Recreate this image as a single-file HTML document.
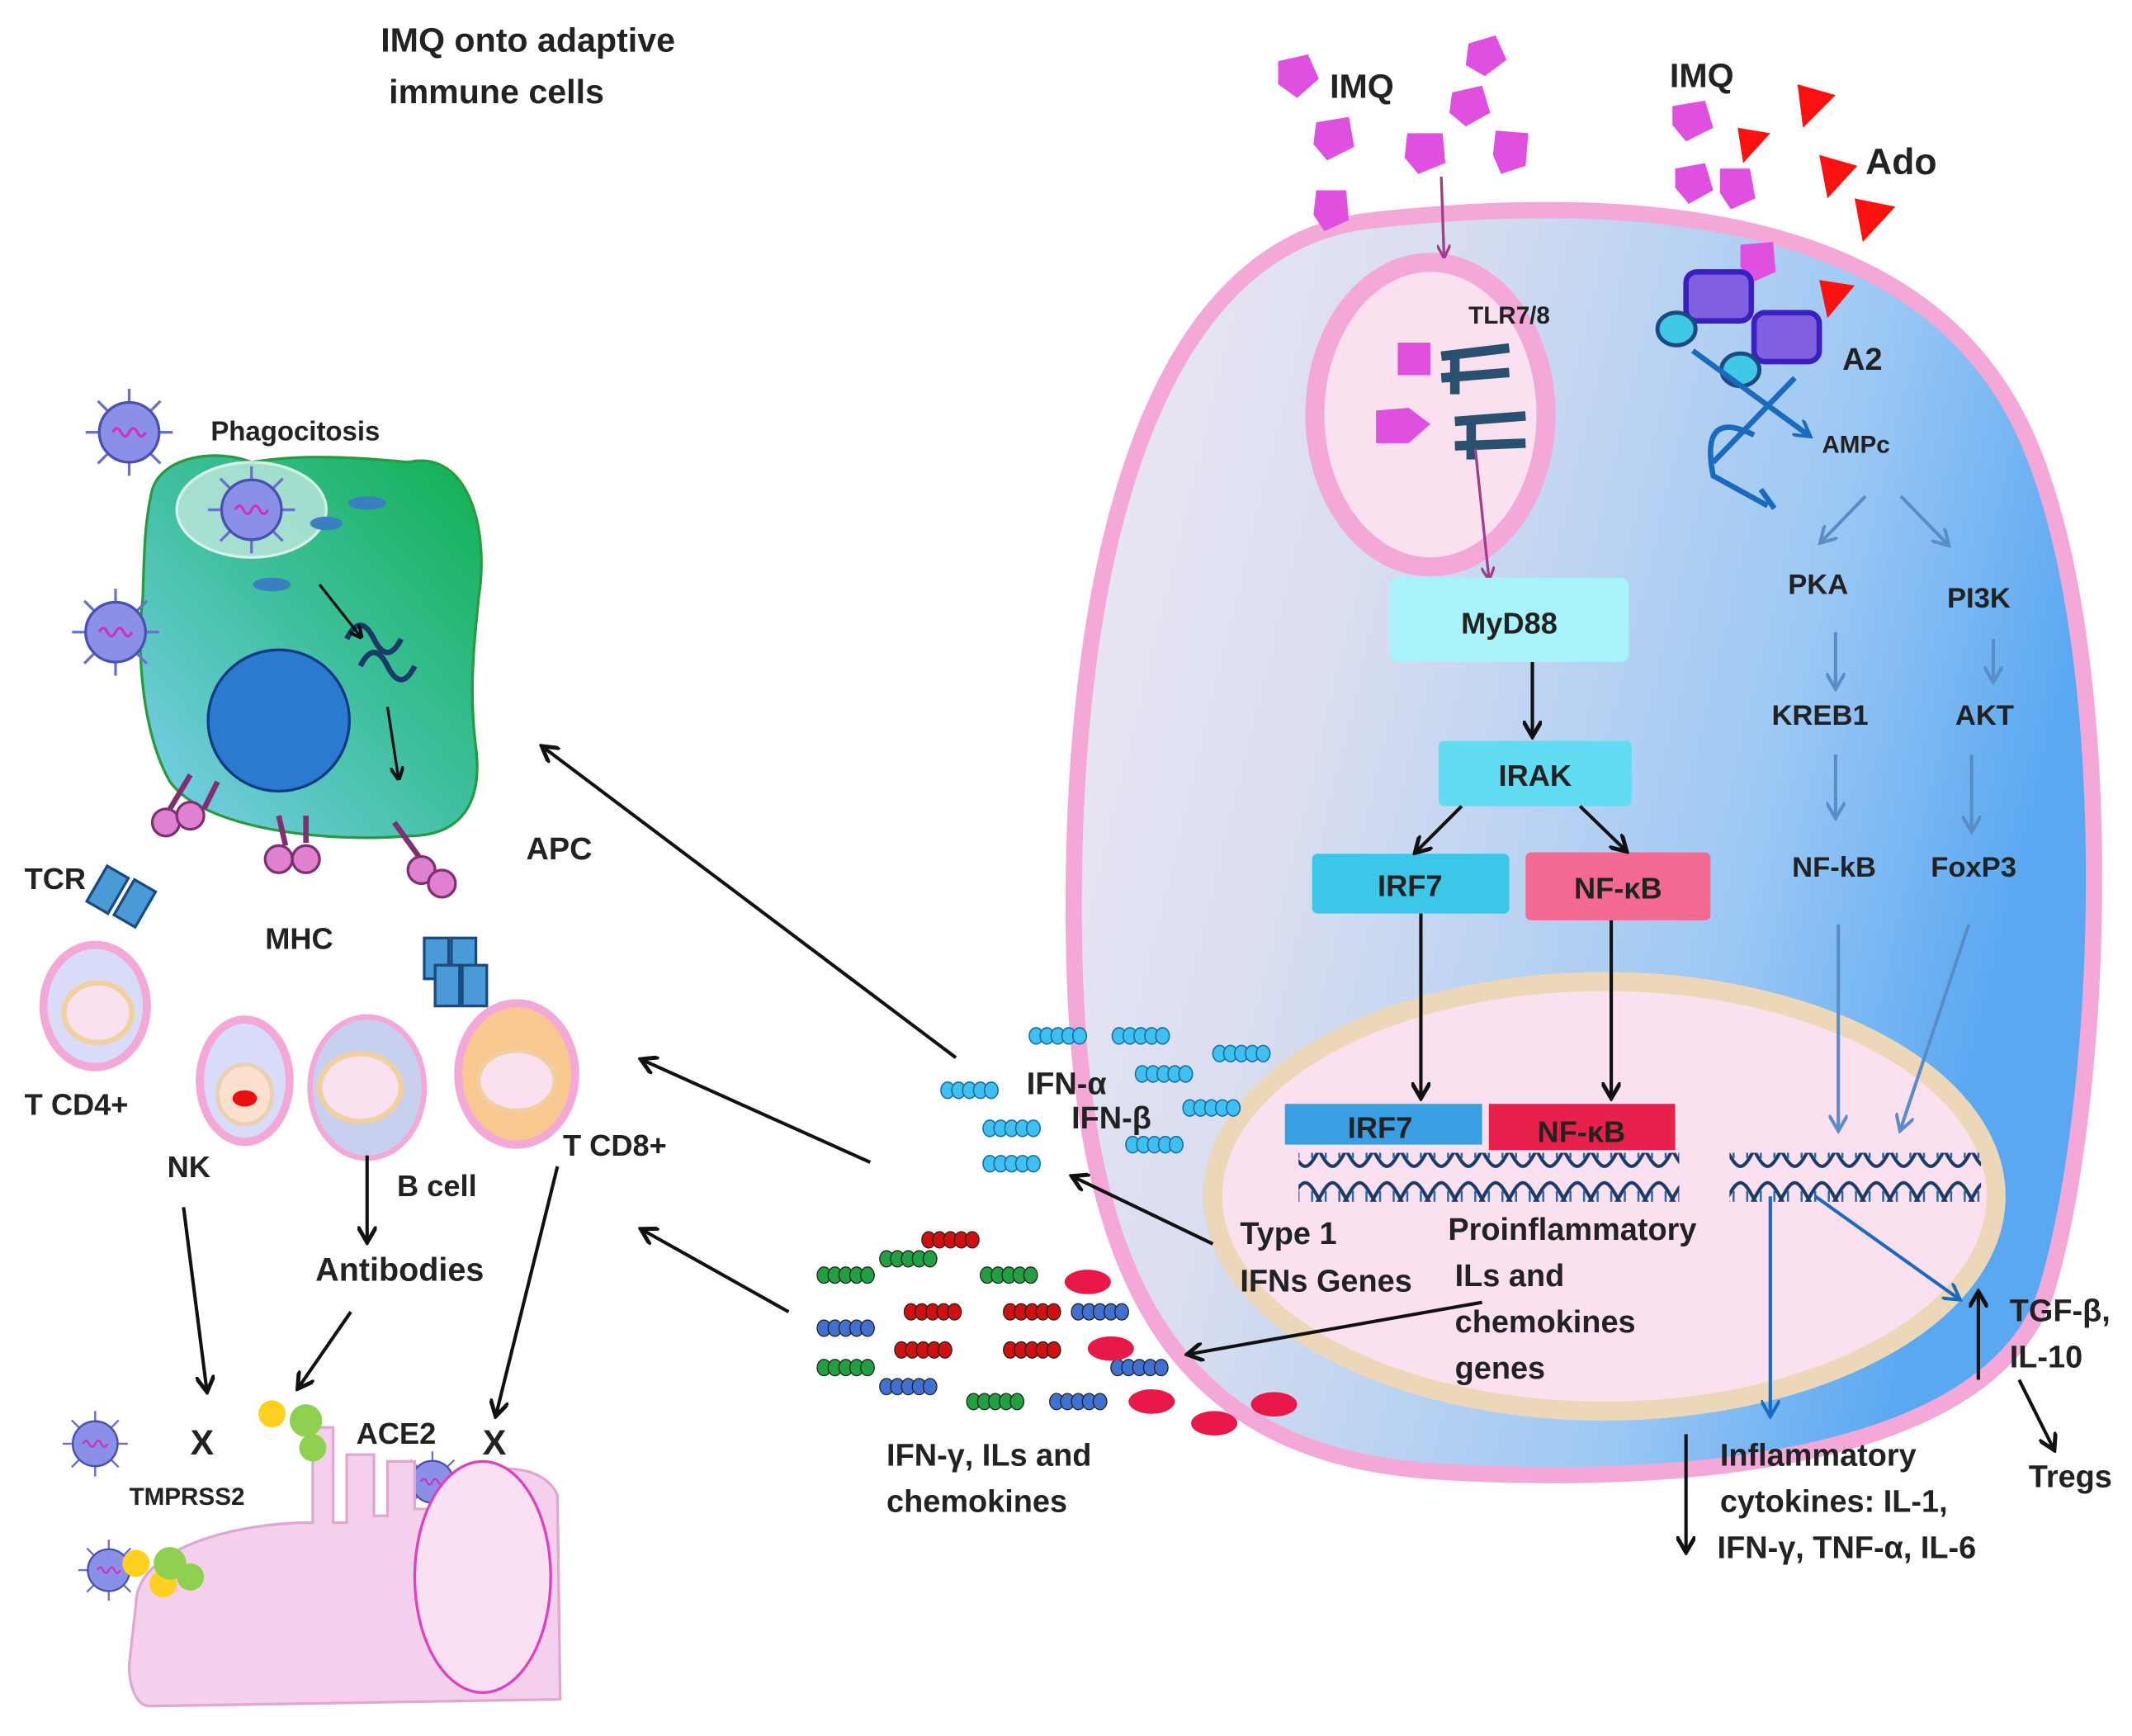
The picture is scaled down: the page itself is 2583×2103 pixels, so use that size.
<!DOCTYPE html>
<html><head><meta charset="utf-8"><style>
html,body{margin:0;padding:0;background:#fff}
svg{display:block}
text{font-family:"Liberation Sans",sans-serif;font-weight:bold;fill:#222}
</style></head><body>
<svg width="2583" height="2103" viewBox="0 0 1568 1277" preserveAspectRatio="none" xmlns="http://www.w3.org/2000/svg">
<defs>
<linearGradient id="cellg" x1="0" y1="0" x2="1" y2="0.3">
<stop offset="0" stop-color="#eee8f4"/><stop offset="0.35" stop-color="#d8ddf0"/><stop offset="0.75" stop-color="#9cc8f4"/><stop offset="1" stop-color="#5aa8f2"/></linearGradient>
<linearGradient id="apcg" x1="0" y1="1" x2="1" y2="0">
<stop offset="0" stop-color="#7fd0f0"/><stop offset="0.5" stop-color="#40c0a0"/><stop offset="1" stop-color="#10b050"/></linearGradient>
<marker id="ab" markerWidth="10" markerHeight="10" refX="8" refY="5" orient="auto" markerUnits="userSpaceOnUse"><path d="M0,0 L10,5 L0,10" fill="none" stroke="#111" stroke-width="2.5"/></marker>
<marker id="abl" markerWidth="14" markerHeight="14" refX="10" refY="7" orient="auto" markerUnits="userSpaceOnUse"><path d="M0,0 L12,7 L0,14" fill="none" stroke="#111" stroke-width="3"/></marker>
<marker id="ap" markerWidth="10" markerHeight="10" refX="8" refY="5" orient="auto" markerUnits="userSpaceOnUse"><path d="M0,0 L10,5 L0,10" fill="none" stroke="#a03c8c" stroke-width="2"/></marker>
<marker id="au" markerWidth="14" markerHeight="14" refX="10" refY="7" orient="auto" markerUnits="userSpaceOnUse"><path d="M0,0 L12,7 L0,14" fill="none" stroke="#5a8cc8" stroke-width="2.5"/></marker>
<marker id="ad" markerWidth="14" markerHeight="14" refX="10" refY="7" orient="auto" markerUnits="userSpaceOnUse"><path d="M0,0 L12,7 L0,14" fill="none" stroke="#1a6ac0" stroke-width="2.5"/></marker>
<pattern id="dna" width="20" height="36" patternUnits="userSpaceOnUse"><path d="M0,6 C7,6 13,30 20,30 M0,30 C7,30 13,6 20,6" stroke="#1a3a6a" stroke-width="2.5" fill="none"/><line x1="5" y1="12" x2="5" y2="24" stroke="#2a6aaa" stroke-width="1.5"/><line x1="15" y1="12" x2="15" y2="24" stroke="#2a6aaa" stroke-width="1.5"/></pattern>
<g id="bd"><ellipse cx="0" cy="0" rx="5" ry="6"/><ellipse cx="8" cy="0" rx="5" ry="6"/><ellipse cx="16" cy="0" rx="5" ry="6"/><ellipse cx="24" cy="0" rx="5" ry="6"/><ellipse cx="32" cy="0" rx="5" ry="6"/></g>
<g id="vir"><g stroke="#6a70d0" stroke-width="2"><line x1="-32" y1="0" x2="32" y2="0"/><line x1="0" y1="-32" x2="0" y2="32"/><line x1="-23" y1="-23" x2="23" y2="23"/><line x1="-23" y1="23" x2="23" y2="-23"/></g>
<circle cx="0" cy="0" r="22" fill="#8a90e8" stroke="#4a50b0" stroke-width="2"/><path d="M-12,0 q3,-6 6,0 t6,0 t6,0 t6,0" stroke="#d030c0" stroke-width="2" fill="none"/></g>
</defs>
<rect width="1568" height="1277" fill="#fff"/>

<text x="280" y="38" font-size="25">IMQ onto adaptive</text>
<text x="286" y="76" font-size="25">immune cells</text>

<!-- big cell -->
<path d="M1010,162 C1210,140 1410,160 1485,310 C1560,460 1550,800 1505,950 C1465,1070 1250,1095 1050,1082 C870,1068 795,950 790,700 C785,460 830,180 1010,162 Z" fill="url(#cellg)" stroke="#f4a8d8" stroke-width="12"/>
<ellipse cx="1052" cy="305" rx="85" ry="112" fill="#fbe0f0" stroke="#f4a8d8" stroke-width="14"/>
<ellipse cx="1180" cy="880" rx="288" ry="158" fill="#fbe0f0" stroke="#ecd8b8" stroke-width="14"/>
<rect x="955" y="848" width="280" height="36" fill="url(#dna)"/>
<rect x="1272" y="848" width="185" height="36" fill="url(#dna)"/>

<g fill="#e050e0">
<path d="M940,45 l22,-5 l8,18 l-16,14 l-14,-10z"/><path d="M1080,32 l20,-6 l8,18 l-16,12 l-14,-8z"/>
<path d="M1068,68 l22,-5 l6,20 l-18,10 l-12,-10z"/><path d="M968,90 l24,-4 l4,22 l-20,10 l-10,-12z"/>
<path d="M1035,98 l26,0 l2,22 l-20,8 l-10,-12z"/><path d="M1100,96 l24,2 l-2,24 l-18,6 l-6,-14z"/>
<path d="M968,140 l22,0 l2,22 l-18,8 l-8,-12z"/>
<path d="M1230,78 l24,-4 l6,20 l-20,10 l-10,-12z"/><path d="M1232,124 l22,-4 l6,20 l-18,10 l-10,-12z"/>
<path d="M1265,124 l22,0 l4,22 l-18,8 l-8,-12z"/><path d="M1280,180 l24,-2 l2,22 l-18,8 l-8,-12z"/>
<path d="M1028,252 l24,0 l0,24 l-24,0z"/><path d="M1012,302 l24,-2 l16,12 l-16,14 l-24,0z"/>
</g>
<g fill="#ff1010">
<path d="M1322,62 l28,8 l-24,24z"/><path d="M1278,94 l24,4 l-20,22z"/><path d="M1338,114 l28,8 l-22,24z"/>
<path d="M1364,146 l30,6 l-24,26z"/><path d="M1338,206 l26,4 l-20,24z"/>
</g>
<text x="978" y="72" font-size="25">IMQ</text>
<text x="1228" y="64" font-size="25">IMQ</text>
<text x="1372" y="128" font-size="27">Ado</text>

<g fill="none" stroke="#2a5070" stroke-width="7">
<path d="M1060,262 l50,-6 M1060,278 l50,-4 M1070,262 v28"/>
<path d="M1070,310 l52,-4 M1070,328 l52,-2 M1082,310 v28"/>
</g>
<text x="1080" y="238" font-size="18" font-weight="normal">TLR7/8</text>
<g stroke="#3a20c0" stroke-width="4" fill="#8060e0">
<rect x="1240" y="200" width="48" height="36" rx="8"/><rect x="1290" y="230" width="48" height="36" rx="8"/>
</g>
<ellipse cx="1233" cy="242" rx="14" ry="12" fill="#40c8e8" stroke="#1a4a80" stroke-width="3"/>
<ellipse cx="1280" cy="272" rx="14" ry="12" fill="#40c8e8" stroke="#1a4a80" stroke-width="3"/>
<text x="1355" y="272" font-size="23">A2</text>
<path d="M1245,258 L1330,320" stroke="#1a6ac0" stroke-width="4" fill="none" marker-end="url(#ad)"/>
<path d="M1320,278 L1260,340 M1290,320 Q1250,300 1260,350 L1300,372" stroke="#1a6ac0" stroke-width="4" fill="none"/>
<path d="M1295,360 l10,14" stroke="#1a6ac0" stroke-width="4"/>
<text x="1340" y="333" font-size="18">AMPc</text>

<line x1="1060" y1="130" x2="1062" y2="188" stroke="#a03c8c" stroke-width="2" marker-end="url(#ap)"/>
<line x1="1085" y1="330" x2="1095" y2="425" stroke="#a03c8c" stroke-width="2" marker-end="url(#ap)"/>

<rect x="1022" y="425" width="176" height="62" rx="6" fill="#a8f2fa"/>
<text x="1110" y="466" font-size="22" text-anchor="middle">MyD88</text>
<rect x="1058" y="545" width="142" height="48" rx="4" fill="#62dcf2"/>
<text x="1129" y="578" font-size="22" text-anchor="middle">IRAK</text>
<rect x="965" y="628" width="145" height="44" rx="4" fill="#3cc6ea"/>
<text x="1037" y="659" font-size="22" text-anchor="middle">IRF7</text>
<rect x="1122" y="627" width="136" height="50" rx="4" fill="#f46a92"/>
<text x="1190" y="661" font-size="22" text-anchor="middle">NF-κB</text>
<rect x="945" y="812" width="145" height="30" fill="#3a9ee2"/>
<text x="1015" y="837" font-size="22" text-anchor="middle">IRF7</text>
<rect x="1095" y="812" width="137" height="34" fill="#e8204c"/>
<text x="1163" y="840" font-size="22" text-anchor="middle">NF-κB</text>

<g stroke="#111" stroke-width="2.5" fill="none">
<line x1="1127" y1="487" x2="1127" y2="540" marker-end="url(#abl)"/>
<line x1="1075" y1="593" x2="1042" y2="626" marker-end="url(#abl)"/>
<line x1="1162" y1="593" x2="1195" y2="625" marker-end="url(#abl)"/>
<line x1="1045" y1="672" x2="1045" y2="806" marker-end="url(#abl)"/>
<line x1="1185" y1="677" x2="1185" y2="806" marker-end="url(#abl)"/>
</g>

<g font-size="21">
<text x="1315" y="437">PKA</text><text x="1432" y="447">PI3K</text>
<text x="1303" y="533">KREB1</text><text x="1438" y="533">AKT</text>
<text x="1318" y="645">NF-kB</text><text x="1420" y="645">FoxP3</text>
</g>
<g stroke="#5a8cc8" stroke-width="2.5" fill="none">
<line x1="1372" y1="365" x2="1340" y2="398" marker-end="url(#au)"/>
<line x1="1398" y1="365" x2="1432" y2="400" marker-end="url(#au)"/>
<line x1="1350" y1="465" x2="1350" y2="505" marker-end="url(#au)"/>
<line x1="1466" y1="470" x2="1466" y2="500" marker-end="url(#au)"/>
<line x1="1350" y1="555" x2="1350" y2="600" marker-end="url(#au)"/>
<line x1="1450" y1="555" x2="1450" y2="610" marker-end="url(#au)"/>
<line x1="1352" y1="680" x2="1352" y2="830" marker-end="url(#au)"/>
<line x1="1448" y1="680" x2="1398" y2="830" marker-end="url(#au)"/>
</g>
<g stroke="#1a6ac0" stroke-width="2.5" fill="none">
<line x1="1302" y1="880" x2="1302" y2="1040" marker-end="url(#ad)"/>
<line x1="1335" y1="880" x2="1440" y2="955" marker-end="url(#ad)"/>
</g>
<g stroke="#111" stroke-width="2.5" fill="none">
<line x1="1240" y1="1055" x2="1240" y2="1140" marker-end="url(#abl)"/>
<line x1="1455" y1="1015" x2="1455" y2="952" marker-end="url(#abl)"/>
<line x1="1485" y1="1015" x2="1510" y2="1065" marker-end="url(#abl)"/>
<line x1="1090" y1="958" x2="875" y2="996" marker-end="url(#abl)"/>
</g>
<g font-size="23">
<text x="1265" y="1078">Inflammatory</text>
<text x="1265" y="1112">cytokines: IL-1,</text>
<text x="1263" y="1146">IFN-γ, TNF-α, IL-6</text>
<text x="1478" y="972">TGF-β,</text><text x="1478" y="1006">IL-10</text>
<text x="1492" y="1094">Tregs</text>
<text x="912" y="915">Type 1</text><text x="912" y="950">IFNs Genes</text>
<text x="1065" y="912">Proinflammatory</text>
<text x="1070" y="946">ILs and</text>
<text x="1070" y="980">chemokines</text>
<text x="1070" y="1014">genes</text>
<text x="755" y="805">IFN-α</text><text x="788" y="830">IFN-β</text>
<text x="652" y="1078">IFN-γ, ILs and</text><text x="652" y="1112">chemokines</text>
<text x="387" y="632">APC</text>
</g>

<g fill="#40c0f0" stroke="#1a70a0" stroke-width="1">
<use href="#bd" x="762" y="762"/><use href="#bd" x="823" y="762"/><use href="#bd" x="697" y="802"/>
<use href="#bd" x="840" y="790"/><use href="#bd" x="897" y="775"/><use href="#bd" x="875" y="815"/>
<use href="#bd" x="728" y="830"/><use href="#bd" x="833" y="842"/><use href="#bd" x="728" y="856"/>
</g>
<g stroke="#222" stroke-width="0.8">
<g fill="#d01010"><use href="#bd" x="683" y="912"/><use href="#bd" x="670" y="965"/><use href="#bd" x="743" y="965"/><use href="#bd" x="663" y="993"/><use href="#bd" x="743" y="993"/></g>
<g fill="#20a040"><use href="#bd" x="606" y="938"/><use href="#bd" x="652" y="926"/><use href="#bd" x="726" y="938"/><use href="#bd" x="606" y="1006"/><use href="#bd" x="716" y="1031"/></g>
<g fill="#4070d0"><use href="#bd" x="606" y="977"/><use href="#bd" x="793" y="965"/><use href="#bd" x="652" y="1020"/><use href="#bd" x="777" y="1031"/><use href="#bd" x="822" y="1006"/></g>
</g>
<g fill="#e81848">
<ellipse cx="800" cy="943" rx="17" ry="9"/><ellipse cx="817" cy="992" rx="17" ry="9"/><ellipse cx="847" cy="1031" rx="17" ry="9"/>
<ellipse cx="893" cy="1047" rx="17" ry="9"/><ellipse cx="937" cy="1033" rx="17" ry="9"/>
</g>

<g stroke="#111" stroke-width="2.5" fill="none">
<line x1="703" y1="778" x2="400" y2="550" marker-end="url(#abl)"/>
<line x1="640" y1="855" x2="473" y2="780" marker-end="url(#abl)"/>
<line x1="580" y1="965" x2="473" y2="905" marker-end="url(#abl)"/>
<line x1="892" y1="915" x2="790" y2="866" marker-end="url(#abl)"/>
</g>

<!-- APC cell -->
<path d="M112,360 C120,335 160,330 185,340 C215,335 250,335 300,340 C345,330 360,390 352,440 C348,480 345,510 350,550 C355,590 340,615 300,615 C240,620 150,610 125,575 C105,540 100,480 105,440 C106,410 106,385 112,360 Z" fill="url(#apcg)" stroke="#2a9a40" stroke-width="2"/>
<ellipse cx="205" cy="530" rx="52" ry="52" fill="#2a7ad0" stroke="#0a3a80" stroke-width="2"/>
<ellipse cx="185" cy="375" rx="55" ry="35" fill="#c0e8e0" stroke="#fff" stroke-width="2" opacity="0.8"/>
<g fill="#3a80c0"><ellipse cx="270" cy="370" rx="14" ry="5"/><ellipse cx="240" cy="385" rx="12" ry="5"/><ellipse cx="200" cy="430" rx="14" ry="5"/></g>
<path d="M255,470 q10,-20 20,0 t20,0 M265,490 q10,-20 20,0 t20,0" stroke="#1a3a6a" stroke-width="4" fill="none"/>
<line x1="235" y1="430" x2="265" y2="468" stroke="#111" stroke-width="2" marker-end="url(#ab)"/>
<line x1="285" y1="520" x2="293" y2="572" stroke="#111" stroke-width="2" marker-end="url(#ab)"/>
<use href="#vir" x="95" y="318"/><use href="#vir" x="85" y="465"/><use href="#vir" x="185" y="375"/>
<g transform="translate(70,1062) scale(0.75)"><use href="#vir"/></g>
<g transform="translate(318,1090) scale(0.7)"><use href="#vir"/></g>
<g transform="translate(80,1155) scale(0.7)"><use href="#vir"/></g>
<g transform="translate(285,1165) scale(0.75)"><use href="#vir"/></g>
<text x="155" y="324" font-size="20">Phagocitosis</text>

<g fill="#e080d0" stroke="#803070" stroke-width="2">
<circle cx="122" cy="605" r="10"/><circle cx="140" cy="600" r="10"/><circle cx="205" cy="632" r="10"/><circle cx="225" cy="632" r="10"/><circle cx="310" cy="640" r="10"/><circle cx="325" cy="650" r="10"/>
</g>
<g stroke="#803070" stroke-width="4"><line x1="125" y1="595" x2="140" y2="570"/><line x1="150" y1="595" x2="160" y2="575"/><line x1="210" y1="622" x2="205" y2="600"/><line x1="225" y1="620" x2="225" y2="600"/><line x1="308" y1="630" x2="290" y2="605"/></g>
<g fill="#4a9ad8" stroke="#1a4a80" stroke-width="2">
<rect x="70" y="640" width="18" height="30" transform="rotate(30 80 655)"/><rect x="90" y="650" width="18" height="30" transform="rotate(30 100 665)"/>
<rect x="312" y="690" width="18" height="30"/><rect x="332" y="690" width="18" height="30"/><rect x="320" y="710" width="18" height="30"/><rect x="340" y="710" width="18" height="30"/>
</g>
<text x="18" y="654" font-size="22">TCR</text>
<text x="195" y="698" font-size="22" font-weight="normal" fill="#333">MHC</text>
<ellipse cx="70" cy="740" rx="38" ry="45" fill="#d8dcf8" stroke="#f4a8d8" stroke-width="6"/>
<ellipse cx="72" cy="745" rx="25" ry="22" fill="#fbe0f0" stroke="#f0d0a0" stroke-width="4"/>
<text x="18" y="820" font-size="22">T CD4+</text>
<ellipse cx="180" cy="795" rx="33" ry="45" fill="#d8dcf8" stroke="#f4a8d8" stroke-width="6"/>
<ellipse cx="180" cy="805" rx="20" ry="22" fill="#fbe0d0" stroke="#e8d0b0" stroke-width="3"/>
<ellipse cx="180" cy="808" rx="9" ry="6" fill="#e81010"/>
<text x="123" y="866" font-size="22">NK</text>
<ellipse cx="270" cy="800" rx="42" ry="52" fill="#c8d0f0" stroke="#f4a8d8" stroke-width="4"/>
<ellipse cx="265" cy="800" rx="30" ry="25" fill="#fbe0f0" stroke="#f0d0a0" stroke-width="4"/>
<text x="292" y="880" font-size="22">B cell</text>
<ellipse cx="380" cy="790" rx="43" ry="52" fill="#f8c890" stroke="#f4a8d8" stroke-width="6"/>
<ellipse cx="380" cy="795" rx="28" ry="22" fill="#fbe0f0" stroke="#f0d0a0" stroke-width="3"/>
<text x="414" y="850" font-size="22">T CD8+</text>
<text x="232" y="942" font-size="24">Antibodies</text>
<g stroke="#111" stroke-width="2.5" fill="none">
<line x1="270" y1="850" x2="270" y2="912" marker-end="url(#abl)"/>
<line x1="135" y1="888" x2="152" y2="1022" marker-end="url(#abl)"/>
<line x1="258" y1="965" x2="220" y2="1020" marker-end="url(#abl)"/>
<line x1="410" y1="858" x2="365" y2="1040" marker-end="url(#abl)"/>
</g>
<text x="140" y="1070" font-size="26">X</text>
<text x="355" y="1070" font-size="26">X</text>
<text x="262" y="1062" font-size="22">ACE2</text>
<path d="M230,1050 h15 v70 h10 v-50 h20 v45 h10 v-40 h20 v35 h10 C350,1070 400,1075 410,1100 L412,1250 L110,1255 C100,1255 95,1240 95,1225 L100,1180 C100,1140 170,1120 230,1120 Z" fill="#f4d0ec" stroke="#e0a8d0" stroke-width="2"/>
<ellipse cx="355" cy="1160" rx="50" ry="85" fill="#fbe0f4" stroke="#e040c0" stroke-width="2"/>
<g fill="#ffd020"><circle cx="200" cy="1040" r="10"/><circle cx="100" cy="1150" r="10"/><circle cx="120" cy="1165" r="10"/></g>
<g fill="#90d050"><circle cx="225" cy="1045" r="12"/><circle cx="230" cy="1065" r="10"/><circle cx="125" cy="1150" r="12"/><circle cx="140" cy="1160" r="10"/></g>
<text x="95" y="1107" font-size="18" font-weight="normal">TMPRSS2</text>
</svg>
</body></html>
